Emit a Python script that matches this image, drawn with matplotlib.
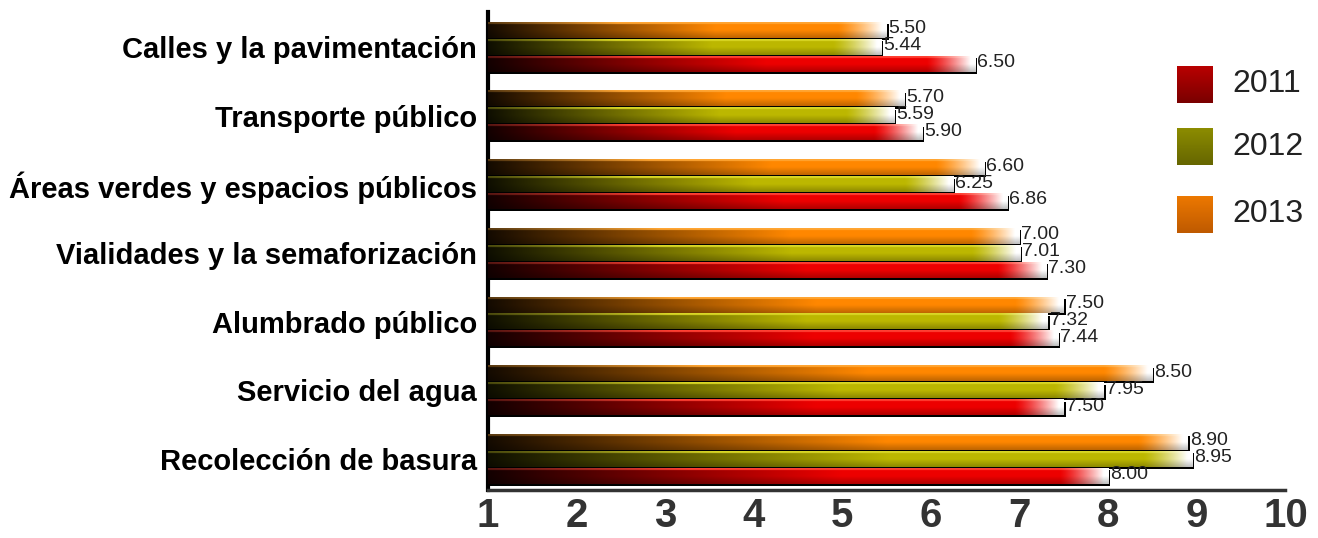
import numpy as np
import matplotlib
matplotlib.use("Agg")
import matplotlib.pyplot as plt
from matplotlib.patches import Rectangle

plt.rcParams["font.family"] = ["Liberation Sans", "DejaVu Sans"]

categories = [
    "Calles y la pavimentación",
    "Transporte público",
    "Áreas verdes y espacios públicos",
    "Vialidades y la semaforización",
    "Alumbrado público",
    "Servicio del agua",
    "Recolección de basura",
]
years = ["2011", "2012", "2013"]
vals_2011 = [6.50, 5.90, 6.86, 7.30, 7.44, 7.50, 8.00]
vals_2012 = [5.44, 5.59, 6.25, 7.01, 7.32, 7.95, 8.95]
vals_2013 = [5.50, 5.70, 6.60, 7.00, 7.50, 8.50, 8.90]

# bar styling: (full colour, highlight colour) per year
bar_colors = {
    "2011": ((0.93, 0.0, 0.0), (1.0, 0.25, 0.2)),
    "2012": ((0.74, 0.72, 0.0), (0.85, 0.84, 0.15)),
    "2013": ((1.0, 0.53, 0.0), (1.0, 0.65, 0.2)),
}
legend_colors = {
    "2011": ("#b80000", "#7a0000"),
    "2012": ("#8c8c00", "#666600"),
    "2013": ("#ec7800", "#bf5a00"),
}
offsets = {"2013": -0.247, "2012": 0.0, "2011": 0.247}
values = {"2011": vals_2011, "2012": vals_2012, "2013": vals_2013}
bar_h = 0.225
x0 = 1.0


def bar_image(v, col, hi, nx=400, ny=24):
    xs = np.linspace(x0, v, nx)
    t = (xs - x0) / (v - x0)
    # black -> colour ramp, then fade to white near the end
    ramp = np.clip(0.08 + t / 0.62, 0, 1)
    base = np.array(col)[None, :] * ramp[:, None]
    fade = np.clip((xs - (v - 0.55)) / 0.5, 0, 1) ** 1.3
    row = base * (1 - fade[:, None]) + fade[:, None] * 1.0
    img = np.repeat(row[None, :, :], ny, axis=0)
    # top highlight line
    hrow = np.array(hi)[None, :] * np.clip(0.35 + t / 0.5, 0, 1)[:, None]
    hrow = hrow * (1 - fade[:, None]) + fade[:, None]
    img[:3] = hrow[None, :, :]
    # darker lower part
    yy = np.linspace(0, 1, ny)
    shade = 1 - 0.25 * np.clip((yy - 0.5) / 0.5, 0, 1)
    img = img * shade[:, None, None]
    return np.clip(img, 0, 1)


fig = plt.figure(figsize=(13.18, 5.38), dpi=100)
ax = fig.add_axes([0.3703, 0.0892, 0.605, 0.8885])

ypos = np.arange(len(categories))
for yr in ["2013", "2012", "2011"]:
    col, hi = bar_colors[yr]
    for i, v in enumerate(values[yr]):
        yc = ypos[i] + offsets[yr]
        top, bot = yc - bar_h / 2, yc + bar_h / 2
        ax.add_patch(Rectangle((x0, top + 0.03), v - x0 + 0.02, bar_h,
                               facecolor="black", edgecolor="none", zorder=2))
        ax.imshow(bar_image(v, col, hi), extent=(x0, v, bot, top),
                  aspect="auto", interpolation="bilinear", zorder=3)
        ax.text(v + 0.02, yc - 0.02, f"{v:.2f}", ha="left", va="center",
                fontsize=14, color="#222222", zorder=4)

ax.set_xlim(1, 10)
ax.set_ylim(6.45, -0.51)
ax.set_aspect("auto")
ax.set_yticks(ypos)
ax.set_yticklabels(categories, fontsize=21, fontweight="bold")
ax.set_xticks(range(1, 11))
ax.set_xticklabels([str(i) for i in range(1, 11)], fontsize=29,
                   fontweight="bold", color="#333333")
ax.tick_params(axis="both", length=0)
ax.tick_params(axis="y", pad=8)
ax.tick_params(axis="x", pad=5)
for s in ["top", "right"]:
    ax.spines[s].set_visible(False)
ax.spines["left"].set_linewidth(3)
ax.spines["left"].set_color("black")
ax.spines["bottom"].set_linewidth(2.5)
ax.spines["bottom"].set_color("#333333")

# legend swatches with vertical gradient
leg_y = {"2011": 66, "2012": 128, "2013": 196}
W, H = 1318, 538
for yr in years:
    top_px = leg_y[yr]
    lax = fig.add_axes([1177 / W, 1 - (top_px + 37) / H, 36 / W, 37 / H])
    c1 = np.array(matplotlib.colors.to_rgb(legend_colors[yr][0]))
    c2 = np.array(matplotlib.colors.to_rgb(legend_colors[yr][1]))
    g = np.linspace(0, 1, 30)[:, None]
    img = (c1[None, :] * (1 - g) + c2[None, :] * g)[:, None, :]
    lax.imshow(img, aspect="auto", extent=(0, 1, 0, 1))
    lax.set_axis_off()
    fig.text(1232 / W, 1 - (top_px + 18.5) / H, yr, fontsize=23,
             color="#222222", ha="left", va="center")

fig.savefig("out.png", dpi=100)
